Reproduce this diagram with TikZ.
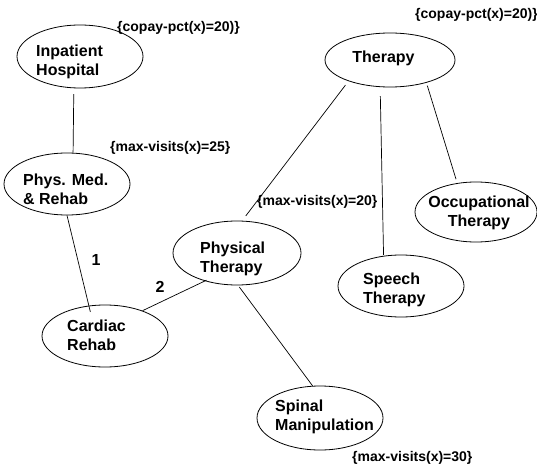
\documentclass[tikz,border=0pt]{standalone}
\usepackage{fontspec}
\setmainfont{Liberation Sans}
\usetikzlibrary{shapes.geometric}
\begin{document}
\begin{tikzpicture}[x=1pt,y=-1pt,
  ell/.style={draw,ellipse,inner sep=0pt,line width=0.8pt},
  txt/.style={font=\fontsize{16}{19}\selectfont\bfseries,align=left,inner sep=0pt,anchor=west},
  lab/.style={font=\fontsize{14}{16}\selectfont\bfseries,inner sep=0pt,anchor=west},
  edge/.style={line width=0.7pt}]
\fill[white] (0,0) rectangle (537,470);
\useasboundingbox (0,0) rectangle (537,470);
% ellipses
\node[ell,minimum width=126pt,minimum height=63pt] (inp) at (80,56.5) {};
\node[ell,minimum width=126pt,minimum height=62pt] (phys) at (67,184) {};
\node[ell,minimum width=130pt,minimum height=54pt] (ther) at (390,60) {};
\node[ell,minimum width=122pt,minimum height=60pt] (occ) at (476,212) {};
\node[ell,minimum width=128pt,minimum height=64pt] (pt) at (237,253) {};
\node[ell,minimum width=126pt,minimum height=62pt] (speech) at (401,286) {};
\node[ell,minimum width=126pt,minimum height=62pt] (card) at (105,336) {};
\node[ell,minimum width=126pt,minimum height=64pt] (spin) at (320,418) {};
% texts
\node[txt] (tinp) at (36,61.5) {Inpatient\\Hospital};
\node[txt] (tphys) at (23,189.5) {Phys. Med.\\\& Rehab};
\node[txt,anchor=center] (tther) at (383.5,58) {Therapy};
\node[txt,anchor=center,align=center] (tocc) at (479,212.5) {Occupational\\Therapy};
\node[txt] (tpt) at (200,258.5) {Physical\\Therapy};
\node[txt] (tspeech) at (363,289.5) {Speech\\Therapy};
\node[txt] (tcard) at (67,335) {Cardiac\\Rehab};
\node[txt] (tspin) at (275,417) {Spinal\\Manipulation};
% labels
\node[lab] (l1) at (117,28) {\{copay-pct(x)=20)\}};
\node[lab] (l2) at (110,148) {\{max-visits(x)=25\}};
\node[lab] (l3) at (415,15) {\{copay-pct(x)=20)\}};
\node[lab] (l4) at (257,202) {\{max-visits(x)=20\}};
\node[lab] (l5) at (352,458) {\{max-visits(x)=30\}};
\node[txt,anchor=center] (n1) at (96,260) {1};
\node[txt,anchor=center] (n2) at (160,287) {2};
% connectors
\draw[edge,shorten <=6pt] (inp.-101) -- (phys.79);
\draw[edge,shorten >=-6.5pt] (phys.-90) -- (card.118);
\draw[edge,shorten >=-2pt] (card.34) -- (pt.-139);
\draw[edge,shorten <=2pt] (pt.-88) -- (spin.103);
\draw[edge,shorten <=5pt,shorten >=6pt] (ther.-153) -- (pt.81);
\draw[edge,shorten <=9pt,shorten >=1pt] (ther.-110) -- (speech.120);
\draw[edge,shorten <=3pt,shorten >=4pt] (ther.-32) -- (occ.123);
\end{tikzpicture}
\end{document}
